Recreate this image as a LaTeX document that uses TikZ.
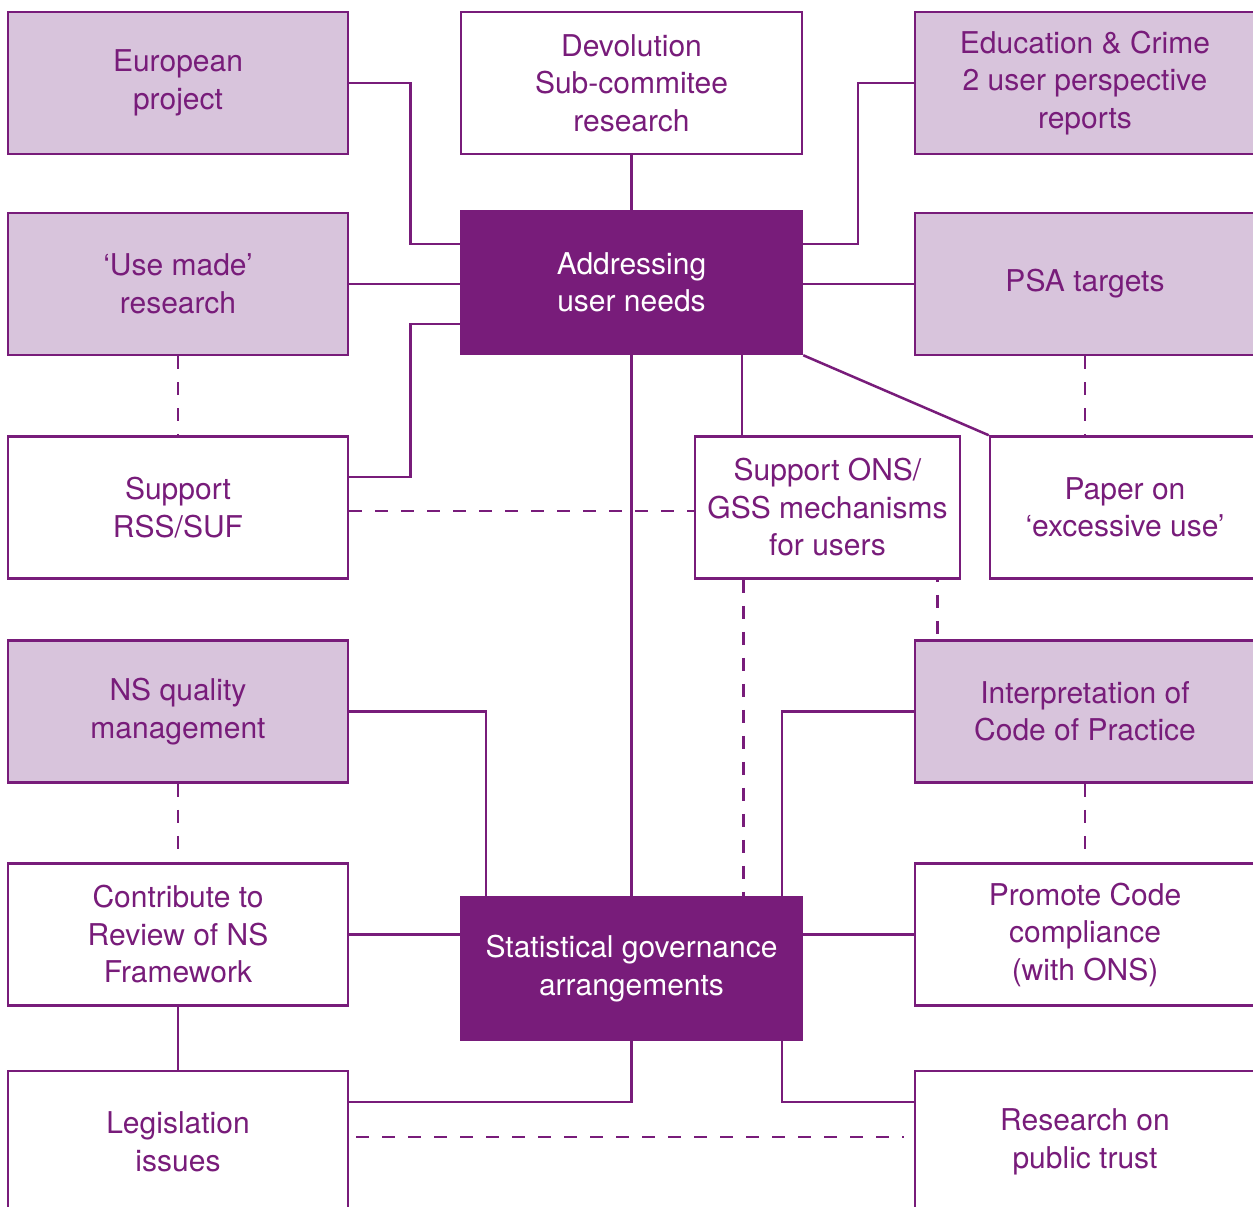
\documentclass[tikz,border=0pt]{standalone}
\usepackage{fontspec}
\setmainfont{TeX Gyre Heros}
\usetikzlibrary{calc}
\definecolor{dpurple}{RGB}{120,28,122}
\definecolor{lpurple}{RGB}{216,196,220}
\tikzset{
  box/.style={draw=dpurple, line width=2.5pt, rectangle, inner sep=0pt, align=center,
    text=dpurple, font=\fontsize{30}{37.5}\selectfont, minimum height=142pt, minimum width=340pt},
  lightbox/.style={box, fill=lpurple},
  whitebox/.style={box, fill=white},
  darkbox/.style={box, fill=dpurple, text=white, minimum height=143pt, minimum width=341pt},
  link/.style={draw=dpurple, line width=2.5pt},
  dashlink/.style={draw=dpurple, line width=2.7pt, dash pattern=on 13pt off 13pt}
}
\begin{document}
\begin{tikzpicture}[x=1pt,y=-1pt]
\useasboundingbox (0,0) rectangle (1253,1207);
\clip (0,0) rectangle (1253,1207);
\fill[white] (0,0) rectangle (1253,1207);
% nodes
\node[lightbox] (europe) at (178,83) {European\\project};
\node[whitebox, minimum width=341pt] (devol) at (631.5,83) {Devolution\\Sub-commitee\\research};
\node[lightbox] (educ) at (1085,83) {Education \& Crime\\2 user perspective\\reports};
\node[lightbox] (usemade) at (178,284) {‘Use made’\\research};
\node[darkbox] (addr) at (631.5,282.5) {Addressing\\user needs};
\node[lightbox] (psa) at (1085,284) {PSA targets};
\node[whitebox] (rss) at (178,507.5) {Support\\RSS/SUF};
\node[whitebox, minimum width=265pt] (ons) at (827.5,507.5) {Support ONS/\\GSS mechanisms\\for users};
\node[whitebox, minimum width=270pt] (paper) at (1125,507.5) {Paper on\\‘excessive use’};
\node[lightbox] (nsq) at (178,711.5) {NS quality\\management};
\node[lightbox] (interp) at (1085,711.5) {Interpretation of\\Code of Practice};
\node[whitebox] (contrib) at (178,934.5) {Contribute to\\Review of NS\\Framework};
\node[darkbox] (stat) at (631.5,968.5) {Statistical governance\\arrangements};
\node[whitebox] (promote) at (1085,934.5) {Promote Code\\compliance\\(with ONS)};
\node[whitebox] (legis) at (178,1142) {Legislation\\issues};
\node[whitebox] (trust) at (1085,1142) {Research on\\public trust};
% connectors around Addressing user needs
\draw[link] (europe.east) -- ++(61,0) |- ([yshift=38.5pt]addr.west);
\draw[link] (devol.south) -- (addr.north);
\draw[link] (educ.west) -- ++(-56,0) |- ([yshift=38.5pt]addr.east);
\draw[link] (usemade.east) -- (usemade.east -| addr.west);
\draw[link] (psa.west) -- (psa.west -| addr.east);
\draw[link] ([yshift=30.5pt]rss.east) -- ++(61,0) |- ([yshift=-41.5pt]addr.west);
\draw[dashlink] (usemade.south) -- (rss.north);
\draw[dashlink] (psa.south) -- (psa.south |- paper.north);
\draw[link] ([xshift=48pt]ons.north west) -- ([xshift=48pt]ons.north west |- addr.south);
\draw[link] (addr.south east) -- (paper.north west);
\draw[link] (addr.south) -- (stat.north);
\draw[dashlink] ([yshift=-3.5pt]rss.east) -- ([yshift=-3.5pt]ons.west);
\draw[dashlink] ([xshift=50pt]ons.south west) -- ([xshift=50pt]ons.south west |- stat.north);
\draw[dashlink, dash phase=-15pt] ([xshift=-24pt]ons.south east) -- ([xshift=-24pt]ons.south east |- interp.north);
% connectors around Statistical governance
\draw[link] (interp.west) -| ([xshift=-21.5pt]stat.north east);
\draw[link] (nsq.east) -| ([xshift=26pt]stat.north west);
\draw[dashlink] (nsq.south) -- (contrib.north);
\draw[dashlink] (interp.south) -- (promote.north);
\draw[link] (contrib.east) -- (contrib.east -| stat.west);
\draw[link] (promote.west) -- (promote.west -| stat.east);
\draw[link] (contrib.south) -- (legis.north);
\draw[link] (stat.south) |- ([yshift=40pt]legis.east);
\draw[link] ([xshift=-21.5pt]stat.south east) |- ([yshift=40pt]trust.west);
\draw[dashlink, shorten <=7pt, shorten >=10pt] ([yshift=5pt]legis.east) -- ([yshift=5pt]trust.west);
\end{tikzpicture}
\end{document}
